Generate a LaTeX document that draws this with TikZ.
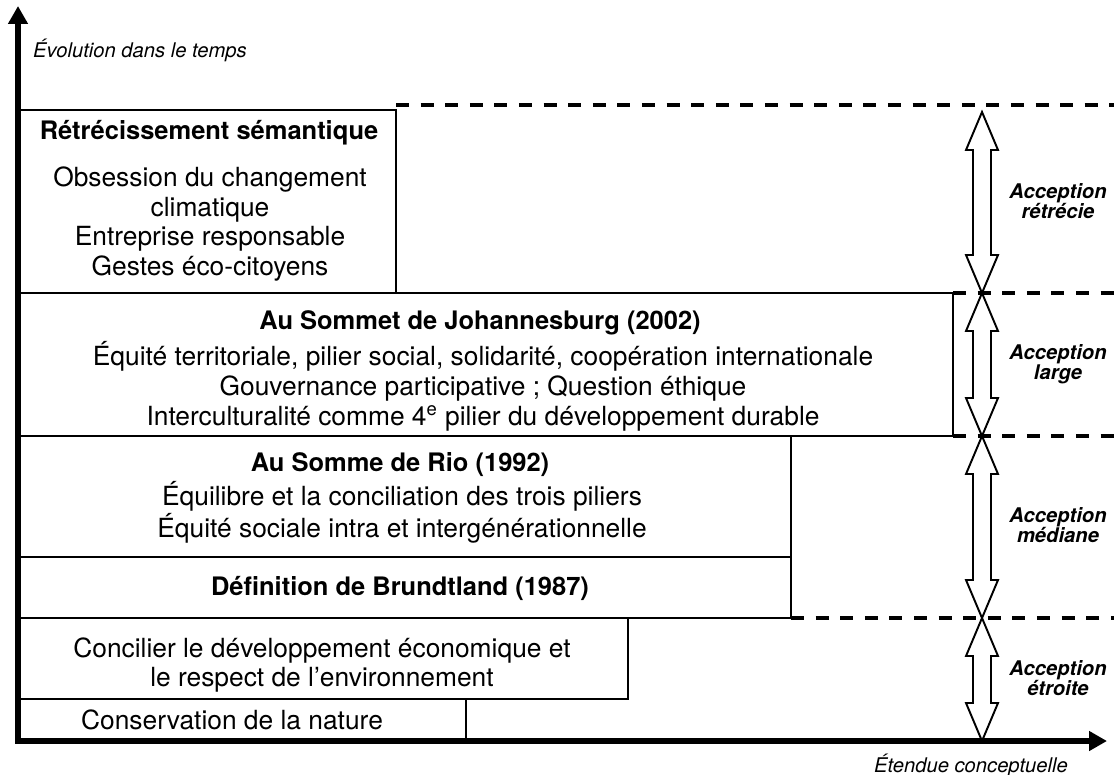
\documentclass[tikz,border=0pt]{standalone}
\usepackage{fontspec}
\setmainfont{TeX Gyre Heros}
\usetikzlibrary{arrows.meta,calc}

% hollow two-way arrow between two named points (top, bottom)
\newcommand\spanarrow[2]{\draw[hollow] (#1) -- ++(16,38) -- ++(-7,0) -- ($(#2)+(9,-38)$) -- ++(7,0) -- (#2) -- ++(-16,-38) -- ++(7,0) -- ($(#1)+(-9,38)$) -- ++(-7,0) -- cycle;}

\begin{document}
\begin{tikzpicture}[x=.02cm,y=-.02cm,box/.style={draw,line width=1.1pt},guide/.style={line width=2.3pt,dash pattern=on 7.4pt off 6.6pt},axis/.style={line width=3.4pt,line cap=rect,-{Triangle[length=.36cm,width=.38cm]}},hollow/.style={draw,fill=white,line width=1.1pt,line join=miter},title/.style={font=\fontsize{14.5}{16.5}\selectfont\bfseries},body/.style={font=\fontsize{15}{17}\selectfont,align=center},tag/.style={font=\fontsize{11.5}{11.5}\selectfont\bfseries\itshape,align=center},axlabel/.style={font=\fontsize{11.5}{13}\selectfont\itshape}]
 \useasboundingbox (0,0) rectangle (1114,774);
 % steps of the concept
 \draw[box] (18,110) rectangle (396,293);
 \draw[box] (18,293) rectangle (953,436);
 \draw[box] (18,436) rectangle (791,557);
 \draw[box] (18,557) rectangle (791,618);
 \draw[box] (18,618) rectangle (628,699);
 \draw[box] (18,699) rectangle (466,741);
 \draw[guide] (396,105) -- (1114,105);
 \draw[guide] (953,293) -- (1114,293);
 \draw[guide] (953,436) -- (1114,436);
 \draw[guide] (791,618) -- (1114,618);
 % texts
 \node[title] (narrow) at (209,133) {Rétrécissement sémantique};
 \node[body] (narrowtxt) at (210,224) {Obsession du changement\\climatique\\Entreprise responsable\\Gestes éco-citoyens};
 \node[title] (joburg) at (480,323) {Au Sommet de Johannesburg (2002)};
 \node[body] (joburgtxt) at (483,386) {Équité territoriale, pilier social, solidarité, coopération internationale\\Gouvernance participative ; Question éthique\\Interculturalité comme 4\textsuperscript{e} pilier du développement durable};
 \node[title] (rio) at (400,465) {Au Somme de Rio (1992)};
 \node[body] (riotxt) at (402,512) {Équilibre et la conciliation des trois piliers\\Équité sociale intra et intergénérationnelle};
 \node[title] (brundt) at (400,588) {Définition de Brundtland (1987)};
 \node[body] (concil) at (322,665) {Concilier le développement économique et\\le respect de l’environnement};
 \node[body] (conserv) at (232,720) {Conservation de la nature};
 % scope of each meaning
 \coordinate (t0) at (982,112);
 \coordinate (t1) at (982,293);
 \coordinate (t2) at (982,436);
 \coordinate (t3) at (982,618);
 \coordinate (t4) at (982,741);
 \foreach \a/\b in {t0/t1,t1/t2,t2/t3,t3/t4} {\spanarrow{\a}{\b}}
 \node[tag] (retr) at (1058,201) {Acception\\rétrécie};
 \node[tag] (large) at (1058,364) {Acception\\large};
 \node[tag] (median) at (1058,525) {Acception\\médiane};
 \node[tag] (etroite) at (1058,678) {Acception\\étroite};
 % axes
 \coordinate (origin) at (18,741);
 \coordinate (ytip) at (18,6);
 \coordinate (xtip) at (1107,741);
 \draw[axis] (origin) -- (ytip);
 \draw[axis] (origin) -- (xtip);
 \node[axlabel,anchor=west] (time) at (27,50) {Évolution dans le temps};
 \node[axlabel,anchor=east] (extent) at (1074,765) {Étendue conceptuelle};
\end{tikzpicture}
\end{document}
